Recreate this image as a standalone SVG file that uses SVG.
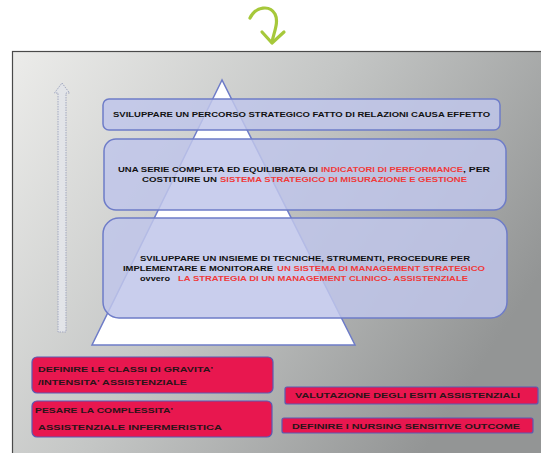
<svg xmlns="http://www.w3.org/2000/svg" width="541" height="453" viewBox="0 0 541 453">
<defs>
<linearGradient id="bg" x1="0" y1="0" x2="1" y2="0.5">
<stop offset="0" stop-color="#ececea"/>
<stop offset="0.5" stop-color="#c4c6c5"/>
<stop offset="1" stop-color="#939595"/>
</linearGradient>
<style>
.box{fill:#c0c6ea;fill-opacity:0.85;stroke:#6e7cc8;stroke-width:1.5}
.red{fill:#e8174f;stroke:#5a5ab4;stroke-width:1.2}
.t{font-family:"Liberation Sans",Arial,sans-serif;font-weight:bold;font-size:7px;fill:#111}
.r{fill:#f03a3a}
.rt{font-family:"Liberation Sans",Arial,sans-serif;font-weight:bold;font-size:8px;fill:#2a1418}
</style>
</defs>
<rect x="0" y="0" width="541" height="453" fill="#fff"/>
<g id="green-arrow" fill="none" stroke="#a6c83a" stroke-width="3.2" stroke-linecap="round" stroke-linejoin="round">
<path d="M250,18 C256,6 270,5 275,14 C279,22 274,32 272,42"/>
<path d="M262,32 L272,43 L284,32"/>
</g>
<g id="slide">
<rect x="12.5" y="51.5" width="540" height="410" fill="url(#bg)" stroke="#4a4a4a" stroke-width="1.2"/>
</g>
<g id="up-arrow">
<path d="M62,83 L69.5,93 L66,93 L66,332 L58,332 L58,93 L54.5,93 Z" fill="#e2e4e8" stroke="#a2a8c0" stroke-width="1" stroke-dasharray="1.5,1"/>
</g>
<g id="pyramid">
<polygon points="222,80 92,345 355,345" fill="#ffffff" stroke="#6e7cc8" stroke-width="1.5"/>
</g>
<g id="box1">
<rect class="box" x="103" y="99" width="397" height="31" rx="6"/>
<text class="t" x="113" y="117" textLength="377" lengthAdjust="spacingAndGlyphs">SVILUPPARE UN PERCORSO STRATEGICO FATTO DI RELAZIONI CAUSA EFFETTO</text>
</g>
<g id="box2">
<rect class="box" x="104" y="139" width="402" height="71" rx="12"/>
<text class="t" x="118" y="172" textLength="200" lengthAdjust="spacingAndGlyphs">UNA SERIE COMPLETA ED EQUILIBRATA DI</text>
<text class="t r" x="321" y="172" textLength="142" lengthAdjust="spacingAndGlyphs">INDICATORI DI PERFORMANCE</text>
<text class="t" x="463" y="172" textLength="27" lengthAdjust="spacingAndGlyphs">, PER</text>
<text class="t" x="142" y="182" textLength="75" lengthAdjust="spacingAndGlyphs">COSTITUIRE UN</text>
<text class="t r" x="220" y="182" textLength="247" lengthAdjust="spacingAndGlyphs">SISTEMA STRATEGICO DI MISURAZIONE E GESTIONE</text>
</g>
<g id="box3">
<rect class="box" x="103" y="218" width="404" height="100" rx="16"/>
<text class="t" x="140" y="261" textLength="330" lengthAdjust="spacingAndGlyphs">SVILUPPARE UN INSIEME DI TECNICHE, STRUMENTI, PROCEDURE PER</text>
<text class="t" x="123" y="271" textLength="150" lengthAdjust="spacingAndGlyphs">IMPLEMENTARE E MONITORARE</text>
<text class="t r" x="277" y="271" textLength="208" lengthAdjust="spacingAndGlyphs">UN SISTEMA DI MANAGEMENT STRATEGICO</text>
<text class="t" x="140" y="281" font-weight="normal" textLength="30" lengthAdjust="spacingAndGlyphs">ovvero</text>
<text class="t r" x="178" y="281" textLength="290" lengthAdjust="spacingAndGlyphs">LA STRATEGIA DI UN MANAGEMENT CLINICO- ASSISTENZIALE</text>
</g>
<g id="red1">
<rect class="red" x="32" y="357" width="241" height="36" rx="5"/>
<text class="rt" x="38" y="372" textLength="175" lengthAdjust="spacingAndGlyphs">DEFINIRE LE CLASSI DI GRAVITA'</text>
<text class="rt" x="38" y="385" textLength="149" lengthAdjust="spacingAndGlyphs">/INTENSITA' ASSISTENZIALE</text>
</g>
<g id="red2">
<rect class="red" x="32" y="401" width="240" height="36" rx="5"/>
<text class="rt" x="35" y="413" textLength="138" lengthAdjust="spacingAndGlyphs">PESARE LA COMPLESSITA'</text>
<text class="rt" x="38" y="430" textLength="184" lengthAdjust="spacingAndGlyphs">ASSISTENZIALE INFERMERISTICA</text>
</g>
<g id="red3">
<rect class="red" x="285" y="387" width="253" height="17" rx="2"/>
<text class="rt" x="295" y="397.5" textLength="225" lengthAdjust="spacingAndGlyphs">VALUTAZIONE DEGLI ESITI ASSISTENZIALI</text>
</g>
<g id="red4">
<rect class="red" x="282" y="418" width="251" height="15" rx="2"/>
<text class="rt" x="292" y="428.5" textLength="228" lengthAdjust="spacingAndGlyphs">DEFINIRE I NURSING SENSITIVE OUTCOME</text>
</g>
</svg>
